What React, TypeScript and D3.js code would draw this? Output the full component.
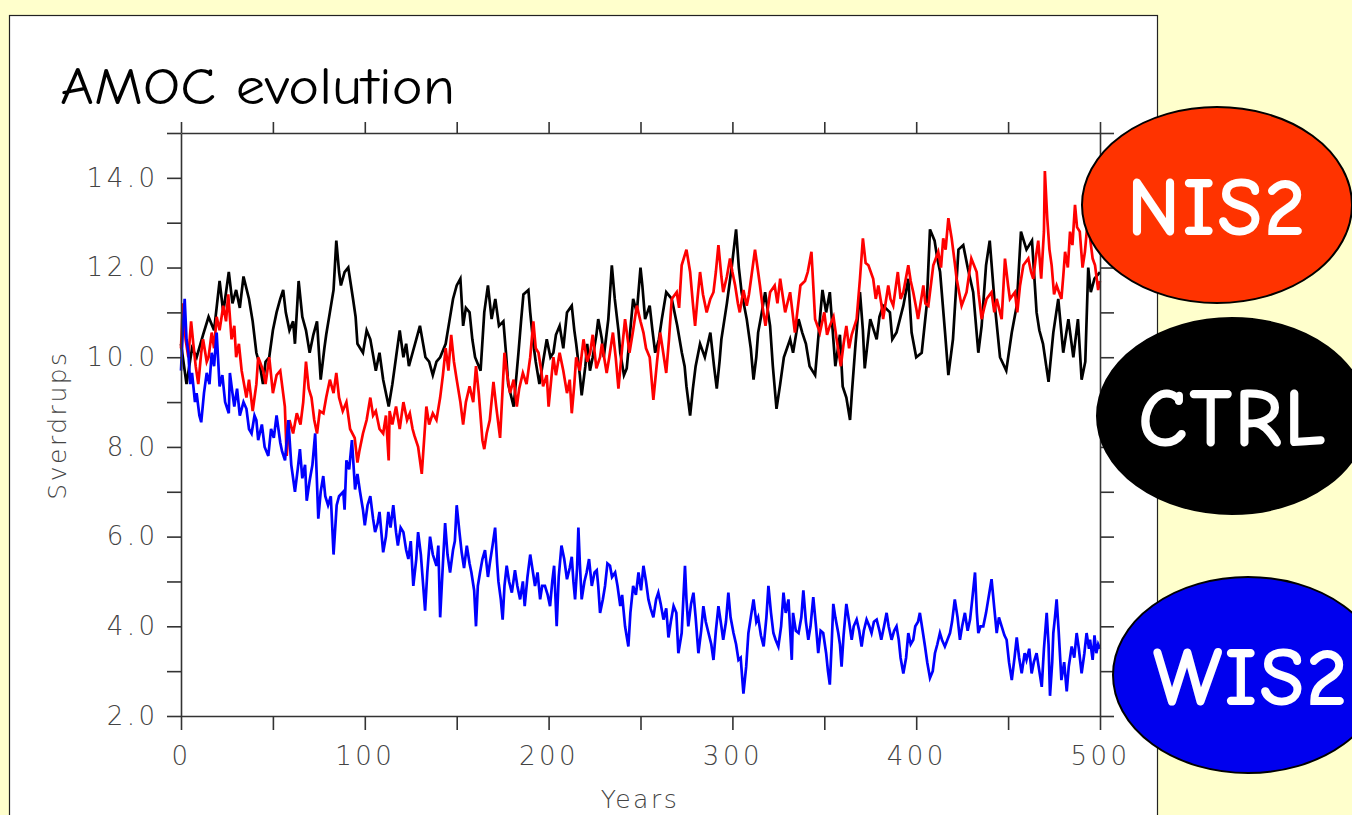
import React, { useEffect, useRef } from 'react';
import * as d3 from 'd3';

type Pt = [number, number];

// x axis (years) and y axis (Sverdrups) labels
const yearTicks = [0, 100, 200, 300, 400, 500];
const sverdrupTicks = [2, 4, 6, 8, 10, 12, 14];

// CTRL run (black) - [year, Sv]
const ctrlSeries: Pt[] = [
  [0,10.3],[3,9.4],[6,10.2],[8.5,10.0],[12,10.5],[15,10.9],[18,10.6],[21,11.7],[23,11.0],[26,11.9],[28,11.2],[30,11.5],[32,11.1],[34,11.8],[37,11.3],[39,10.8],[41,10.1],[43,9.8],[44.6,9.4],[46,9.9],[48,10.0],[50,10.6],[52,11.0],[54,11.3],[55.6,11.5],[57,11.0],[59,10.6],[61,10.8],[62,10.3],[64,11.7],[66,10.9],[68,10.6],[70,10.1],[72,10.5],[74,10.8],[76,9.5],[78,10.2],[79,10.5],[81,11.0],[83,11.5],[84.5,12.6],[86,11.9],[87,11.6],[89,11.9],[91,12.0],[93.6,11.3],[95,10.9],[96,10.3],[99,10.1],[101,10.6],[103,10.4],[106,9.7],[108,10.1],[110,9.5],[113,8.9],[115,9.4],[117,10.0],[119,10.6],[121,10.0],[122.5,10.3],[124,9.8],[126,10.1],[128,10.4],[130,10.7],[133,10.0],[135,9.9],[137,9.6],[139,9.9],[141,10.0],[144,10.3],[146,10.8],[148,11.3],[150,11.6],[152,11.75],[153.5,10.7],[155,11.1],[157,11.0],[158.5,10.4],[160,10.0],[163,9.7],[165,11.0],[167,11.6],[169,10.85],[171,11.3],[173,10.7],[175.4,10.8],[177,10.0],[178,9.4],[181,8.9],[183.6,10.1],[185,10.8],[186.3,11.4],[189,11.5],[190,11.0],[191.7,10.3],[193,9.9],[195,9.4],[197,9.9],[199,10.4],[201,10.0],[202.6,10.1],[204,10.5],[206,10.7],[208,10.2],[210,11.0],[212.6,11.15],[214,10.6],[215,10.3],[217,9.6],[218,9.15],[220,9.8],[221,10.3],[222.5,9.7],[224,10.0],[226,10.5],[227,10.85],[229,10.4],[230,10.0],[232.5,10.85],[234.4,12.05],[236,11.3],[238,10.6],[239,10.1],[241,9.6],[242.5,9.75],[244,10.4],[246,11.3],[248,11.0],[250,12.0],[251,11.6],[252.5,10.85],[255,11.15],[256.5,10.6],[258,10.1],[260,10.4],[261.6,10.85],[264,11.45],[267,11.3],[270,10.7],[272.5,10.1],[274,9.8],[275,9.35],[277,8.7],[278.5,9.3],[280,9.8],[282.4,10.3],[285,10.0],[288,10.55],[290,9.8],[291.5,9.3],[293,9.9],[294,10.4],[297,11.2],[299.6,12.0],[302,12.85],[303.5,12.0],[305,11.45],[307.8,10.85],[310,10.2],[311.5,9.5],[313,10.0],[314,10.55],[316,11.0],[317.8,11.45],[320.5,10.7],[322,9.8],[324,8.85],[326,9.4],[328,10.0],[331.4,10.4],[333,10.1],[336,10.85],[338,10.55],[340,10.3],[342,9.8],[345,9.6],[347.6,10.85],[349,11.5],[351,11.0],[353,11.45],[356,9.8],[358.5,10.5],[360,9.35],[362,9.1],[364,8.6],[365,9.2],[367,10.3],[369.4,11.45],[371,10.6],[372,9.75],[375,10.85],[378.5,10.4],[380,10.9],[382,11.15],[385.7,11.0],[387,10.4],[389.3,10.55],[393,11.15],[395.7,11.75],[397.5,10.55],[400,10.0],[403,10.1],[405.7,11.15],[407.5,12.85],[410,12.6],[411.5,12.2],[413,11.9],[415.7,10.55],[417.5,9.6],[420,10.4],[423,12.4],[425.6,12.5],[428,12.0],[431,11.45],[433.8,10.1],[435.6,10.7],[438,12.05],[440,12.6],[442.8,11.15],[445.6,10.0],[449,9.7],[452,10.55],[454.7,11.15],[457,12.8],[460,12.4],[463,12.6],[465.5,11.0],[467,10.6],[469,10.3],[472,9.45],[474.6,10.55],[477.3,11.3],[480,10.1],[482.8,10.85],[485.5,10.0],[488,10.85],[490,9.5],[492,9.9],[493.6,12.0],[495,11.45],[497,11.75],[500,11.9],
];

// NIS2 run (red)
const nis2Series: Pt[] = [
  [0,10.2],[1,11.2],[2.5,10.4],[4,10.0],[5.5,10.8],[6.7,10.3],[8,9.8],[9.4,9.4],[11,10.1],[12,10.4],[14,9.9],[15,10.0],[16.7,10.55],[18,10.2],[19.4,10.9],[21,10.6],[23,11.15],[24.5,10.8],[25.7,11.4],[27.5,10.4],[29,10.7],[30,10.0],[31.5,10.3],[33,9.7],[35.6,9.1],[37,9.5],[39,8.8],[41,9.4],[42,10.0],[44.7,9.7],[46,9.4],[48,10.0],[50,9.2],[52,9.6],[54,9.7],[56.5,8.9],[57.5,7.8],[59,8.6],[61,8.3],[63,8.75],[65,8.5],[66.5,9.0],[68,9.9],[69.5,9.3],[71,9.1],[72.5,8.6],[74,8.3],[75.5,8.8],[77.5,8.75],[79,9.1],[81,9.5],[83,9.2],[84.5,9.65],[86,9.1],[88,8.8],[90,9.0],[92,8.4],[94.5,8.2],[96,7.65],[97,7.9],[99,8.3],[101,8.6],[103,9.1],[104.5,8.7],[106,8.8],[108,8.4],[110,8.3],[111.5,8.7],[113,7.7],[113.5,8.8],[115,8.5],[117,8.9],[119,8.4],[121,9.0],[123,8.6],[124.5,8.75],[126,8.4],[127,8.25],[129,8.0],[131,7.4],[133.5,8.9],[135,8.5],[137,8.75],[139,8.6],[141,9.1],[142.5,9.6],[144,10.2],[145.5,9.7],[147,10.5],[148.5,9.9],[150,9.5],[152,9.0],[153.5,8.5],[155,9.0],[157,9.35],[159,9.0],[160.5,9.8],[162,9.2],[164,8.15],[165,7.95],[166.3,8.3],[168,8.6],[170,9.45],[171.5,8.9],[173.6,8.2],[176,10.1],[177.5,9.6],[179,9.2],[181,9.5],[182.7,8.9],[184,9.3],[186,9.65],[188,9.4],[190,10.0],[191.7,10.8],[193,10.2],[194.5,10.1],[196,9.7],[197,9.35],[199,9.6],[200,8.9],[202.6,10.0],[204,9.6],[206,10.1],[208,9.7],[210,9.2],[211.5,9.5],[212.6,8.75],[214,9.4],[215,10.0],[217,9.7],[219,10.4],[221,9.9],[222.6,10.1],[224,10.5],[226,9.75],[228,10.0],[229,10.3],[231.6,9.65],[233,10.0],[235,10.55],[236.5,10.0],[238,9.3],[240,10.2],[241.6,10.85],[244,10.1],[246,10.6],[248,11.15],[250,10.8],[251.6,10.55],[253,10.2],[255,10.0],[257,9.05],[259,9.9],[260.7,10.55],[262,10.2],[264,9.65],[265.5,10.4],[267,11.3],[269.7,11.45],[271,11.1],[272.4,12.05],[275,12.4],[277,11.9],[278.5,11.2],[279.7,10.7],[281,11.3],[282.4,11.9],[284,11.4],[286,11.0],[288,11.3],[289.7,11.45],[291,11.9],[292.4,12.5],[294,11.8],[295,11.45],[297,11.8],[298.7,12.2],[300,11.9],[301.5,11.6],[303,11.2],[304,11.0],[306,11.5],[307.8,11.15],[309,11.4],[310.5,11.85],[312.3,12.4],[314,11.9],[315,11.6],[316.5,11.1],[318,10.7],[320.5,11.45],[323,11.6],[324.5,11.2],[326,11.75],[328.7,11.0],[331.4,11.45],[334,10.55],[337,11.6],[339.5,11.7],[341,11.9],[343,12.35],[345,10.85],[347.6,10.55],[350,11.0],[351.5,10.5],[353,10.7],[355,10.9],[356.7,10.4],[359,9.8],[360.5,10.3],[362,10.7],[363.5,10.2],[364.9,10.5],[367.6,10.85],[369.4,11.75],[371,12.65],[372.5,12.1],[374,12.05],[376.6,11.75],[378,11.3],[379.4,11.6],[381,11.2],[382,10.85],[384.8,11.6],[386,11.3],[387.5,11.15],[390,11.9],[391.5,11.3],[393,11.45],[395.7,12.05],[397,11.7],[398.4,11.45],[400,11.1],[401,10.85],[403.9,11.6],[405,11.2],[406.6,11.15],[409.3,12.05],[412,12.35],[413.5,12.0],[414.7,12.65],[416,12.4],[417.5,13.1],[419.3,12.65],[421,12.1],[422,11.75],[424.7,11.15],[427.4,11.45],[430,12.2],[432.9,11.9],[434,11.4],[435.6,10.85],[437,11.1],[438.3,11.3],[441,11.45],[442.5,11.0],[443.8,11.3],[446.5,10.85],[448.3,12.2],[450,11.6],[451,11.3],[453.7,11.45],[455,11.0],[456.5,11.6],[458.3,12.05],[461,12.2],[462.5,11.9],[463.7,11.75],[465,12.2],[466.4,12.6],[468,11.75],[469.5,12.8],[470,14.15],[471.3,13.1],[472.5,12.4],[473.7,12.05],[475,11.4],[476.4,11.6],[479,11.3],[480,11.8],[481,12.35],[482.5,12.0],[483.7,12.8],[485,12.5],[486.4,13.4],[487.5,12.9],[489,12.8],[490.5,12.0],[491.8,12.35],[493,12.9],[494.6,12.65],[496,12.2],[497.3,12.05],[499,11.5],[500,11.7],
];

// WIS2 run (blue)
const wis2Series: Pt[] = [
  [0,9.7],[1,10.6],[2,11.3],[3,10.4],[4,10.1],[5,9.4],[6,9.65],[7.6,9.0],[8.5,9.2],[10,8.7],[11,8.55],[12.5,9.2],[14,9.65],[15.5,9.4],[16.7,10.1],[18,9.8],[19.4,10.55],[21,9.35],[22.5,9.6],[24,9.0],[26,8.75],[26.6,9.65],[28,9.2],[29,8.9],[30.5,9.3],[32,8.7],[34,9.0],[35.6,8.85],[37,8.4],[38.4,8.3],[40,8.7],[41,8.6],[42,8.15],[44,8.5],[45.5,8.0],[47.5,7.8],[49,8.4],[50.5,8.2],[52,8.7],[54,8.1],[55,7.9],[56.6,7.7],[58.4,8.6],[60,7.6],[62,7.0],[63.5,7.5],[64.7,7.95],[66,7.3],[67.5,7.6],[68.4,6.8],[70,7.25],[71.5,7.6],[73,8.3],[74.7,6.4],[76,7.0],[77.4,7.35],[78.5,6.9],[80,6.7],[81.5,6.9],[83,5.6],[84.7,6.7],[86,6.9],[88.3,7.0],[89,6.6],[90,7.7],[91.5,7.5],[93,8.15],[94.7,7.05],[96,7.4],[97.4,7.0],[99,6.6],[100,6.25],[101.5,6.7],[103,6.9],[104.5,6.4],[105.6,6.1],[107,6.3],[108,6.55],[110,5.65],[111.5,6.0],[112.8,6.55],[114,6.2],[115.5,6.7],[117,6.1],[118,5.8],[119.5,6.2],[121,6.1],[122.5,5.7],[123.7,5.5],[125,5.9],[126.4,4.9],[128,5.5],[129,6.1],[130.5,5.6],[132.8,4.35],[134,5.2],[135.5,6.0],[137,5.6],[139,5.35],[140,5.8],[141,4.2],[142.5,5.4],[143.7,6.3],[145,5.6],[146.4,5.2],[148,5.7],[149,5.9],[150,6.7],[151.5,6.1],[152.7,5.65],[154,5.3],[155.5,5.8],[157,5.4],[158,5.2],[159.5,4.8],[160.5,4.0],[161.5,4.9],[162.7,5.2],[164,5.5],[165.4,5.7],[167,5.1],[168,5.4],[169.5,5.8],[170.9,6.2],[172,5.4],[172.7,5.0],[174,4.6],[175,4.15],[176,4.9],[177.2,5.35],[178.5,5.0],[180,4.75],[181.7,5.25],[183,4.9],[184.5,4.6],[186,5.0],[187,4.45],[188.5,5.1],[190,5.6],[191.5,5.2],[192.6,4.9],[194,5.2],[195.4,4.6],[196.5,4.9],[198,4.9],[199.5,4.7],[200.8,4.45],[202,5.0],[203,5.35],[204.4,4.0],[205.5,5.1],[207,5.8],[208.5,5.5],[210,5.05],[211.5,5.3],[212.6,5.55],[213.5,5.0],[214.4,4.6],[215.5,5.3],[216.2,6.2],[217,5.4],[218,4.6],[219.5,5.0],[220.7,5.2],[222,5.5],[223.5,4.9],[225,5.2],[226.2,5.25],[227,4.9],[228,4.3],[229.5,4.6],[230.7,4.9],[232,5.4],[233.4,5.35],[234.5,5.1],[236.2,5.2],[237.5,4.9],[239,4.45],[240,4.7],[241.6,4.0],[243.4,3.55],[244.5,4.3],[246,4.9],[247.5,4.7],[248.9,5.2],[250.3,4.8],[251.6,5.35],[253,5.0],[254.3,4.6],[255.5,4.4],[257,4.2],[258.5,4.6],[259.7,4.75],[261,4.5],[262.5,4.15],[264,4.4],[265.2,3.75],[266.5,4.1],[268,4.45],[269.5,4.3],[270.6,3.4],[272.4,3.85],[274.2,5.35],[275,4.6],[276,4.0],[277.5,4.5],[278.8,4.75],[280,4.2],[281.5,3.4],[283,3.9],[284.2,4.45],[285.5,4.1],[287,3.85],[288.5,3.6],[289.7,3.25],[291,3.9],[292.4,4.45],[294,4.0],[295,3.7],[296.5,4.1],[297.8,4.75],[299,4.2],[300.6,3.85],[302,3.6],[303.3,3.25],[304.5,3.3],[306,2.5],[307.5,3.1],[308.7,3.85],[310,4.2],[311.5,4.6],[313,4.1],[314,4.2],[315.5,3.8],[317,3.55],[318.5,4.2],[319.6,4.9],[321,4.3],[322.3,3.85],[323.5,3.7],[325,3.55],[326.5,4.0],[327.8,4.75],[329,4.3],[330.5,4.6],[332.3,3.25],[333,4.3],[334.5,3.9],[336,3.85],[337.5,4.2],[338.6,4.8],[340,4.1],[341.3,3.7],[342.5,4.0],[344,4.65],[345.5,4.0],[346.7,3.4],[348,3.9],[349.4,3.85],[351,3.4],[352,3.0],[353,2.7],[354,3.6],[354.9,4.5],[356,4.2],[357.6,3.85],[358.5,3.6],[359.4,3.1],[360.5,3.8],[362,4.5],[363.5,4.1],[364.9,3.7],[366,4.0],[367.6,4.15],[369,3.9],[370.3,3.55],[371.5,3.9],[373,4.15],[374.5,4.0],[375.7,3.85],[377,4.1],[378.5,4.15],[380,3.9],[381,3.7],[382.5,4.0],[383.9,4.3],[385,4.0],[386.6,3.7],[388,3.9],[389.3,4.0],[390.5,3.7],[391.5,3.3],[393,2.95],[394.5,3.3],[395.7,3.85],[397,3.6],[398.4,3.7],[399.5,4.0],[401,4.1],[402,4.3],[403.5,3.9],[404.8,3.55],[406,3.2],[407.5,2.85],[409,3.0],[410.2,3.4],[411.5,3.6],[412.9,3.85],[414,3.7],[415.6,3.55],[417,3.7],[418.4,3.85],[419.5,4.1],[421,4.6],[422.5,4.2],[423.8,3.7],[425,4.0],[426.5,4.3],[428,3.9],[429.3,4.15],[430.5,4.6],[432,5.2],[433,4.3],[433.8,3.85],[435,4.0],[436.5,4.0],[438,4.3],[439.2,4.6],[440,4.8],[441,5.05],[442.5,4.4],[443.8,3.85],[445,4.2],[446.5,4.0],[448,3.8],[449.2,3.7],[450.5,3.2],[452,2.8],[453.5,3.3],[454.7,3.75],[456,3.3],[457.4,2.95],[459,3.4],[460,3.25],[461.5,3.5],[462.8,2.95],[464,3.2],[465.5,3.4],[467,3.0],[468.3,2.65],[469.5,3.5],[471,4.3],[472,3.6],[472.8,2.45],[474,3.2],[474.6,3.85],[475.5,4.2],[476.4,4.6],[477.5,3.9],[479,2.8],[480.5,3.2],[481.9,2.55],[483,3.1],[484.6,3.55],[486,3.3],[487.3,3.85],[488.5,3.5],[490,2.95],[491.5,3.4],[492.7,3.85],[494,3.5],[494.6,3.7],[496,3.25],[497,3.8],[498,3.4],[499,3.6],[500,3.5],
];

const seriesNames = ['CTRL', 'NIS2', 'WIS2'];
const seriesColors = ['#000000', '#ff0000', '#0000ff'];

const App = () => {
  const svgRef = useRef<SVGSVGElement>(null);

  useEffect(() => {
    if (!svgRef.current) return;
    const svg = d3.select(svgRef.current);
    svg.selectAll('*').remove();

    const W = 1352, H = 815;
    const plot = { left: 181, right: 1100, top: 133, bottom: 716 };
    const x = d3.scaleLinear().domain([0, 500]).range([plot.left, plot.right]);
    const y = d3.scaleLinear().domain([2, 15]).range([plot.bottom, plot.top]);

    const comic = "'Comic Sans MS', 'Comic Neue', 'DejaVu Sans', sans-serif";
    const thin = "'DejaVu Sans', sans-serif";

    // page background + white panel
    svg.append('rect').attr('width', W).attr('height', H).attr('fill', '#ffffcc');
    svg.append('rect')
      .attr('x', 9.5).attr('y', 15.5).attr('width', 1148).attr('height', 830)
      .attr('fill', '#ffffff').attr('stroke', '#222').attr('stroke-width', 1.2);

    // title
    svg.append('text')
      .attr('x', 60).attr('y', 104)
      .attr('font-family', comic).attr('font-size', 52)
      .attr('textLength', 395).attr('lengthAdjust', 'spacingAndGlyphs')
      .attr('fill', '#000')
      .text('AMOC evolution');

    // series lines
    const line = d3.line<Pt>().x(d => x(d[0])).y(d => y(d[1]));
    const allSeries = [ctrlSeries, nis2Series, wis2Series];
    allSeries.forEach((data, i) => {
      svg.append('path')
        .datum(data)
        .attr('fill', 'none')
        .attr('stroke', seriesColors[i])
        .attr('stroke-width', 2.7)
        .attr('d', line);
    });

    // axes: outward ticks all round
    const yMinor = d3.range(2, 16, 1);
    const xMinor = d3.range(0, 501, 50);
    const fmtY = (d: number) => (sverdrupTicks.includes(d) ? d.toFixed(1) : '');
    const fmtX = (d: number) => (yearTicks.includes(d) ? String(d) : '');

    const gLeft = svg.append('g').attr('transform', `translate(${plot.left},0)`)
      .call(d3.axisLeft(y).tickValues(yMinor).tickSize(14).tickSizeOuter(0).tickPadding(12).tickFormat(fmtY as any));
    const gRight = svg.append('g').attr('transform', `translate(${plot.right},0)`)
      .call(d3.axisRight(y).tickValues(yMinor).tickSize(14).tickSizeOuter(0).tickFormat(() => ''));
    const gBottom = svg.append('g').attr('transform', `translate(0,${plot.bottom})`)
      .call(d3.axisBottom(x).tickValues(xMinor).tickSize(14).tickSizeOuter(0).tickPadding(17).tickFormat(fmtX as any));
    const gTop = svg.append('g').attr('transform', `translate(0,${plot.top})`)
      .call(d3.axisTop(x).tickValues(xMinor).tickSize(11).tickSizeOuter(0).tickFormat(() => ''));

    [gLeft, gRight, gBottom, gTop].forEach(g => {
      g.selectAll('.domain').attr('stroke', '#333').attr('stroke-width', 1.6);
      g.selectAll('.tick line').attr('stroke', '#333').attr('stroke-width', 1.6);
      g.selectAll('.tick text')
        .attr('font-family', thin).attr('font-weight', 200)
        .attr('font-size', 26).attr('letter-spacing', 3.5).attr('fill', '#444');
    });
    // letter-spacing adds trailing space on end-anchored labels; shift back
    gLeft.selectAll('.tick text').attr('dx', 3.5);

    // axis titles
    svg.append('text')
      .attr('transform', 'translate(66,425) rotate(-90)')
      .attr('text-anchor', 'middle')
      .attr('font-family', thin).attr('font-weight', 200).attr('font-size', 25)
      .attr('letter-spacing', 2.5)
      .attr('fill', '#444')
      .text('Sverdrups');
    svg.append('text')
      .attr('x', 640).attr('y', 808)
      .attr('text-anchor', 'middle')
      .attr('font-family', thin).attr('font-weight', 200).attr('font-size', 25)
      .attr('letter-spacing', 2.5)
      .attr('fill', '#444')
      .text('Years');

    // run labels in ellipses
    const badges = [
      { name: seriesNames[1], fill: '#ff3300', cx: 1217, cy: 205, tx: 1217 },
      { name: seriesNames[0], fill: '#000000', cx: 1232, cy: 416, tx: 1233 },
      { name: seriesNames[2], fill: '#0000ee', cx: 1248, cy: 675, tx: 1251 },
    ];
    badges.forEach(b => {
      svg.append('ellipse')
        .attr('cx', b.cx).attr('cy', b.cy).attr('rx', 135).attr('ry', 98)
        .attr('fill', b.fill).attr('stroke', '#000').attr('stroke-width', 2);
      svg.append('text')
        .attr('x', b.tx).attr('y', b.cy + 30)
        .attr('text-anchor', 'middle')
        .attr('font-family', comic).attr('font-weight', 'bold').attr('font-size', 82)
        .attr('letter-spacing', 2)
        .attr('fill', '#ffffff')
        .text(b.name);
    });
  }, []);

  return (
    <div style={{ position: 'fixed', left: 0, top: 0 }}>
      <svg ref={svgRef} width={1352} height={815} style={{ display: 'block' }} />
    </div>
  );
};

export default App;
